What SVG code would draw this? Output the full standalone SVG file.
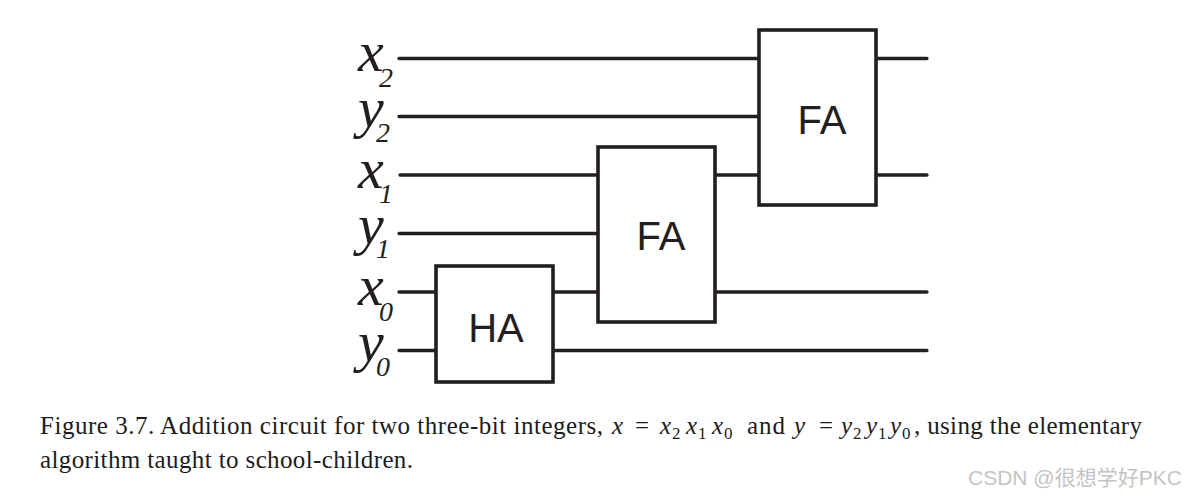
<svg xmlns="http://www.w3.org/2000/svg" width="1187" height="498" viewBox="0 0 1187 498">
<style>
.w{stroke:#231f20;stroke-width:3.3;fill:none;stroke-linecap:round}
.b{fill:#fff;stroke:#231f20;stroke-width:3.6}
.v{font:italic 58px "Liberation Serif",serif;fill:#231f20}
.s{font:italic 28px "Liberation Serif",serif;fill:#231f20}
.n{font:40px "Liberation Sans",sans-serif;fill:#231f20;text-anchor:middle}
.c{font:25px "Liberation Serif",serif;fill:#1c1c1c}
.m{font:italic 25px "Liberation Serif",serif;fill:#1c1c1c}
.d{font:17px "Liberation Serif",serif;fill:#1c1c1c}
</style>
<rect width="1187" height="498" fill="#fff"/>
<g id="connectors">
<path class="w" d="M399 58.500H759M399 116.500H759M400 175H598M399 233.500H598M399 292H436M399 350.500H436M553 292H598M553 350.500H927M715 175H759M715 292H927M876 58.500H927M876 175H927"/>
</g>
<g id="label-x2"><text class="v" x="358" y="71">x</text><text class="s" x="379" y="87">2</text></g>
<g id="label-y2"><text class="v" x="358" y="127">y</text><text class="s" x="376" y="142">2</text></g>
<g id="label-x1"><text class="v" x="358" y="188">x</text><text class="s" x="379" y="203">1</text></g>
<g id="label-y1"><text class="v" x="358" y="244">y</text><text class="s" x="376" y="258">1</text></g>
<g id="label-x0"><text class="v" x="358" y="305">x</text><text class="s" x="379" y="321">0</text></g>
<g id="label-y0"><text class="v" x="358" y="361">y</text><text class="s" x="376" y="376">0</text></g>
<g id="HA"><rect class="b" x="436" y="266" width="117" height="116"/><text class="n" x="496" y="342">HA</text></g>
<g id="FA1"><rect class="b" x="598" y="147" width="117" height="175"/><text class="n" x="661" y="250">FA</text></g>
<g id="FA2"><rect class="b" x="759" y="30" width="117" height="175"/><text class="n" x="822" y="134">FA</text></g>
<g id="caption">
<text class="c" x="40" y="434" textLength="563">Figure 3.7. Addition circuit for two three-bit integers,</text>
<text class="m" x="612" y="434">x</text><text class="c" x="635" y="434">=</text>
<text class="m" x="660" y="434">x</text><text class="d" x="672" y="439">2</text>
<text class="m" x="686" y="434">x</text><text class="d" x="698" y="439">1</text>
<text class="m" x="712" y="434">x</text><text class="d" x="724" y="439">0</text>
<text class="c" x="747" y="434" textLength="38">and</text>
<text class="m" x="794" y="434">y</text><text class="c" x="819" y="434">=</text>
<text class="m" x="841" y="434">y</text><text class="d" x="853" y="439">2</text>
<text class="m" x="866" y="434">y</text><text class="d" x="878" y="439">1</text>
<text class="m" x="890" y="434">y</text><text class="d" x="902" y="439">0</text>
<text class="c" x="914" y="434" textLength="228">, using the elementary</text>
<text class="c" x="40" y="468" textLength="373">algorithm taught to school-children.</text>
</g>
<text x="968" y="485" font-family="'Liberation Sans','Noto Sans CJK SC',sans-serif" font-size="21" fill="#c4c4c4">CSDN @很想学好PKC</text>
</svg>
